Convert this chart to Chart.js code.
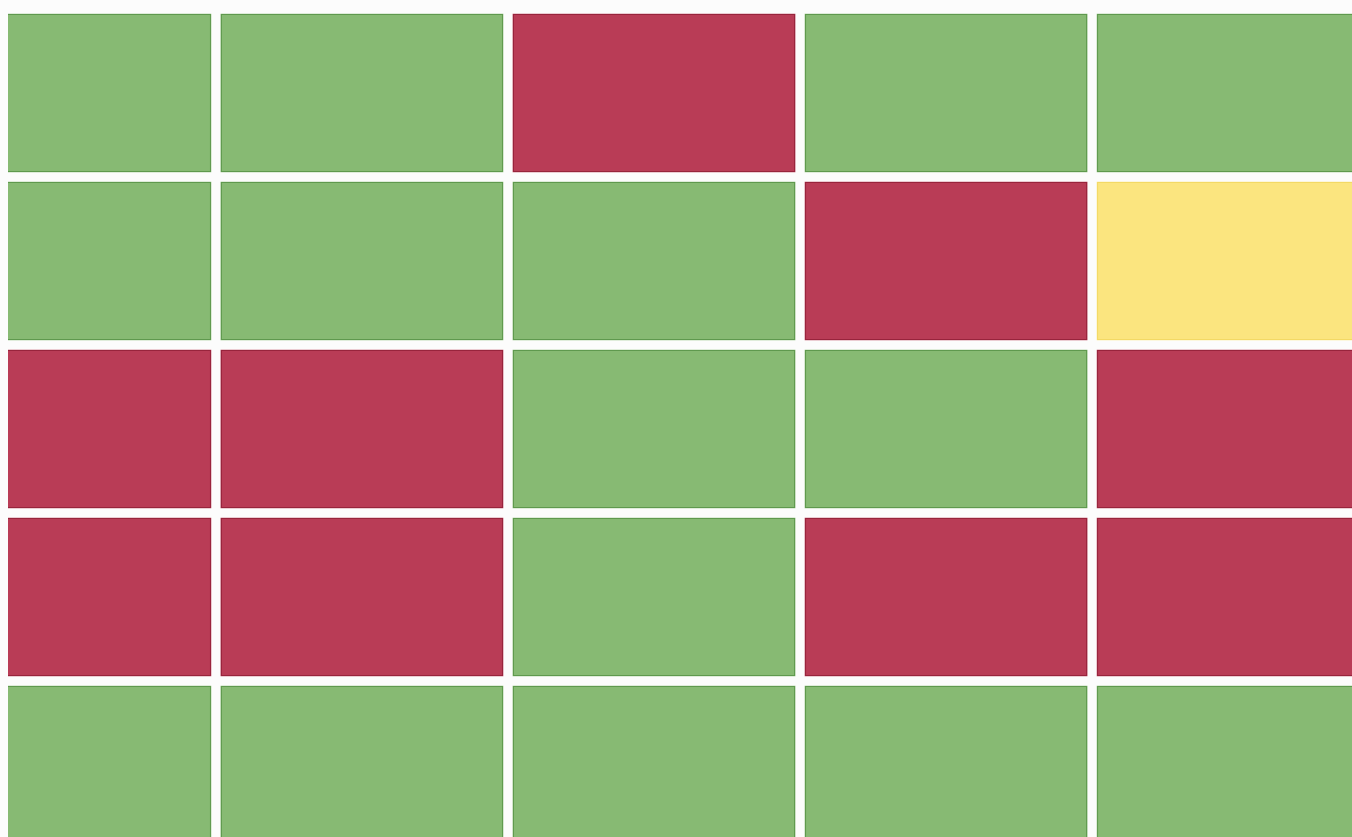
<!DOCTYPE html>
<html>
<head>
<meta charset="utf-8">
<title>Status grid</title>
<script src="https://cdn.jsdelivr.net/npm/chart.js@4/dist/chart.umd.min.js"></script>
<style>
    html, body { margin: 0; padding: 0; background: #fcfcfc; overflow: hidden; }
    canvas { display: block; }
</style>
</head>
<body>
<canvas id="statusChart" width="1352" height="849"></canvas>
<script>
// Rows and columns of the grid (the picture is a crop, so labels are not shown)
const rowLabels = ['Row 1', 'Row 2', 'Row 3', 'Row 4', 'Row 5'];
const colLabels = ['Col 1', 'Col 2', 'Col 3', 'Col 4', 'Col 5'];

// 1 = ok (green), 0 = warning (yellow), -1 = fail (red)
const row1 = [1, 1, -1, 1, 1];
const row2 = [1, 1, 1, -1, 0];
const row3 = [-1, -1, 1, 1, -1];
const row4 = [-1, -1, 1, -1, -1];
const row5 = [1, 1, 1, 1, 1];
const statusRows = [row1, row2, row3, row4, row5];

const fillColors = { '1': '#87ba73', '0': '#fbe57f', '-1': '#b93c56' };
const edgeColors = { '1': '#4f8c3e', '0': '#f0d45a', '-1': '#8a1a32' };
const gapColor = '#fcfcfc';

// One dataset per column, each cell is a floating bar spanning [col, col + 1]
const datasets = colLabels.map((col, ci) => ({
    label: col,
    data: rowLabels.map(() => [ci, ci + 1]),
    backgroundColor: statusRows.map(row => fillColors[row[ci]]),
    edgeColor: statusRows.map(row => edgeColors[row[ci]]),
    borderColor: gapColor,
    borderWidth: 5, // half of the white gap between cells
    borderSkipped: false,
    grouped: false,
    categoryPercentage: 1,
    barPercentage: 1,
    clip: 0
}));

// thin darker line just inside each cell
const cellEdges = {
    id: 'cellEdges',
    afterDatasetsDraw(chart) {
        const ctx = chart.ctx;
        const area = chart.chartArea;
        ctx.save();
        ctx.beginPath();
        ctx.rect(area.left, area.top, area.right - area.left, area.bottom - area.top);
        ctx.clip();
        ctx.lineWidth = 1;
        chart.data.datasets.forEach((ds, di) => {
            chart.getDatasetMeta(di).data.forEach((bar, i) => {
                const p = bar.getProps(['x', 'y', 'base', 'height'], true);
                const left = Math.min(p.x, p.base) + 5;
                const right = Math.max(p.x, p.base) - 5;
                const top = p.y - p.height / 2 + 5;
                const bottom = p.y + p.height / 2 - 5;
                ctx.strokeStyle = ds.edgeColor[i];
                ctx.globalAlpha = 0.7;
                ctx.strokeRect(left + 0.5, top + 0.5, right - left - 1, bottom - top - 1);
            });
        });
        ctx.restore();
    }
};

const ctx = document.getElementById('statusChart').getContext('2d');
new Chart(ctx, {
    type: 'bar',
    data: {
        labels: rowLabels,
        datasets: datasets
    },
    options: {
        indexAxis: 'y',
        responsive: false,
        animation: false,
        devicePixelRatio: 1,
        layout: {
            padding: { top: 9, left: 8, right: 0, bottom: 0 }
        },
        scales: {
            x: {
                type: 'linear',
                min: 0.288, // first column is cut off on the left
                max: 4.89,
                display: false
            },
            y: {
                type: 'category',
                offset: true,
                display: false
            }
        },
        plugins: {
            legend: { display: false },
            tooltip: { enabled: false }
        }
    },
    plugins: [cellEdges]
});
</script>
</body>
</html>
